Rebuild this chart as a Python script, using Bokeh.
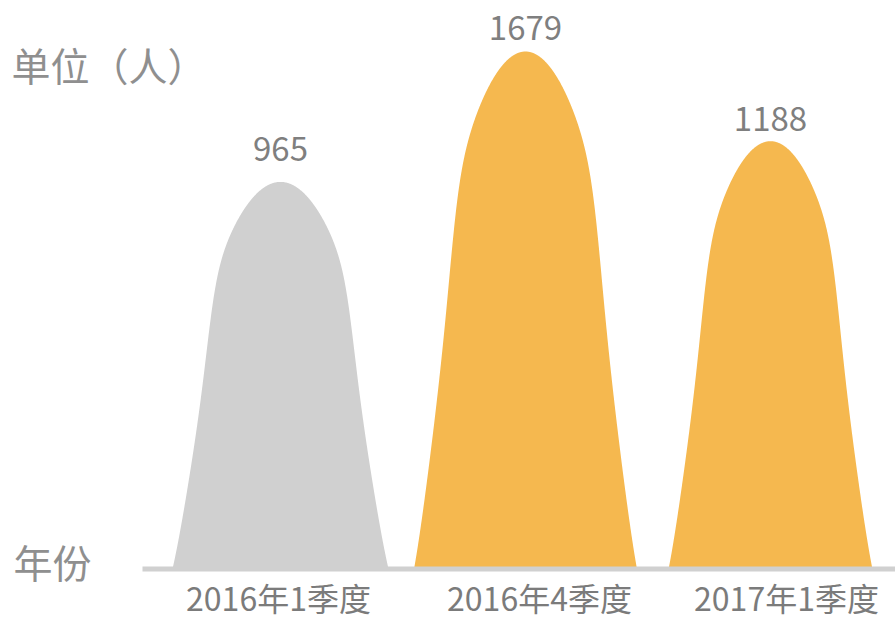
import numpy as np
from bokeh.plotting import figure
from bokeh.models import ColumnDataSource, Label, Range1d
from bokeh.core.properties import value
from bokeh.embed import file_html
from bokeh.resources import INLINE

# ---- data ----
categories = ["2016年1季度", "2016年4季度", "2017年1季度"]
counts = [965, 1679, 1188]
value_labels = ["965", "1679", "1188"]
y_title = "单位（人）"
x_title = "年份"

# ---- styles / layout ----
fill_colors = ["#d0d0d0", "#f5b84f", "#f5b84f"]
half_widths = [0.441, 0.455, 0.416]      # in category units
label_dx = [-2, 14, 16]                  # px nudges of category labels
value_dy = [-33, -24, -22]               # px offsets of value labels
FONT_NAME = "Noto Sans CJK SC"
FONT = value(FONT_NAME)

W, H = 895, 619
X0_PX, STEP_PX = 280, 245                # first category centre / spacing (px)
BASE = -1155.0                           # value sitting on the baseline
PX_PER_UNIT = 0.1826
BASE_PX = H - 568.5                      # baseline height above figure bottom

x_start = -X0_PX / STEP_PX
x_end = (W - X0_PX) / STEP_PX
y_start = BASE - BASE_PX / PX_PER_UNIT
y_end = y_start + H / PX_PER_UNIT

p = figure(width=W, height=H, x_range=Range1d(x_start, x_end),
           y_range=Range1d(y_start, y_end), output_backend="svg",
           toolbar_location=None, min_border=0, x_axis_location=None,
           y_axis_location=None, outline_line_color=None,
           background_fill_color="white", border_fill_color="white")
p.grid.visible = False

# smooth mountain profile: rounded cap, steep sides, slightly flared foot
hw = np.linspace(0, 1, 400)
z = hw ** 2
f = (0.62 + 0.46 / (1 + np.exp(-(z - 0.42) / 0.06))
     - 0.08 * (np.clip(z - 0.6, 0, None) / 0.4) ** 2)
hprof = np.clip(1 - z * f, 0, 1)
hprof[-1] = 0.0
u = np.concatenate([-hw[::-1], hw])
prof = np.concatenate([hprof[::-1], hprof])

xs, ys = [], []
for i, (c, w) in enumerate(zip(counts, half_widths)):
    xs.append(list(i + u * w))
    ys.append(list(BASE + prof * (c - BASE)))

p.patches(xs=xs, ys=ys, fill_color=fill_colors, line_color=None)

# baseline (x axis line)
axis_left = (142 - X0_PX) / STEP_PX
p.segment(x0=[axis_left], y0=[BASE], x1=[x_end], y1=[BASE],
          line_color="#d0d0d0", line_width=5, line_cap="butt")

idx = list(range(len(categories)))
src_vals = ColumnDataSource(dict(x=idx, y=counts, t=value_labels, dy=value_dy))
p.text(x="x", y="y", text="t", source=src_vals, text_align="center",
       text_baseline="alphabetic", y_offset="dy", text_font=FONT,
       text_font_size="33px", text_color="#7f7f7f")

src_cats = ColumnDataSource(dict(x=idx, y=[BASE] * len(idx), t=categories, dx=label_dx))
p.text(x="x", y="y", text="t", source=src_cats, x_offset="dx", y_offset=27.5,
       text_align="center", text_baseline="middle", text_font=FONT,
       text_font_size="32px", text_color="#7b7b7b")

p.add_layout(Label(x=11, y=H - 63.5, x_units="screen", y_units="screen",
                   text=y_title, text_font=FONT_NAME, text_font_size="39px",
                   text_baseline="middle", text_color="#8f8f8f"))
p.add_layout(Label(x=13, y=H - 560, x_units="screen", y_units="screen",
                   text=x_title, text_font=FONT_NAME, text_font_size="39px",
                   text_baseline="middle", text_color="#8f8f8f"))

open("out.html", "w").write(file_html(p, INLINE))
